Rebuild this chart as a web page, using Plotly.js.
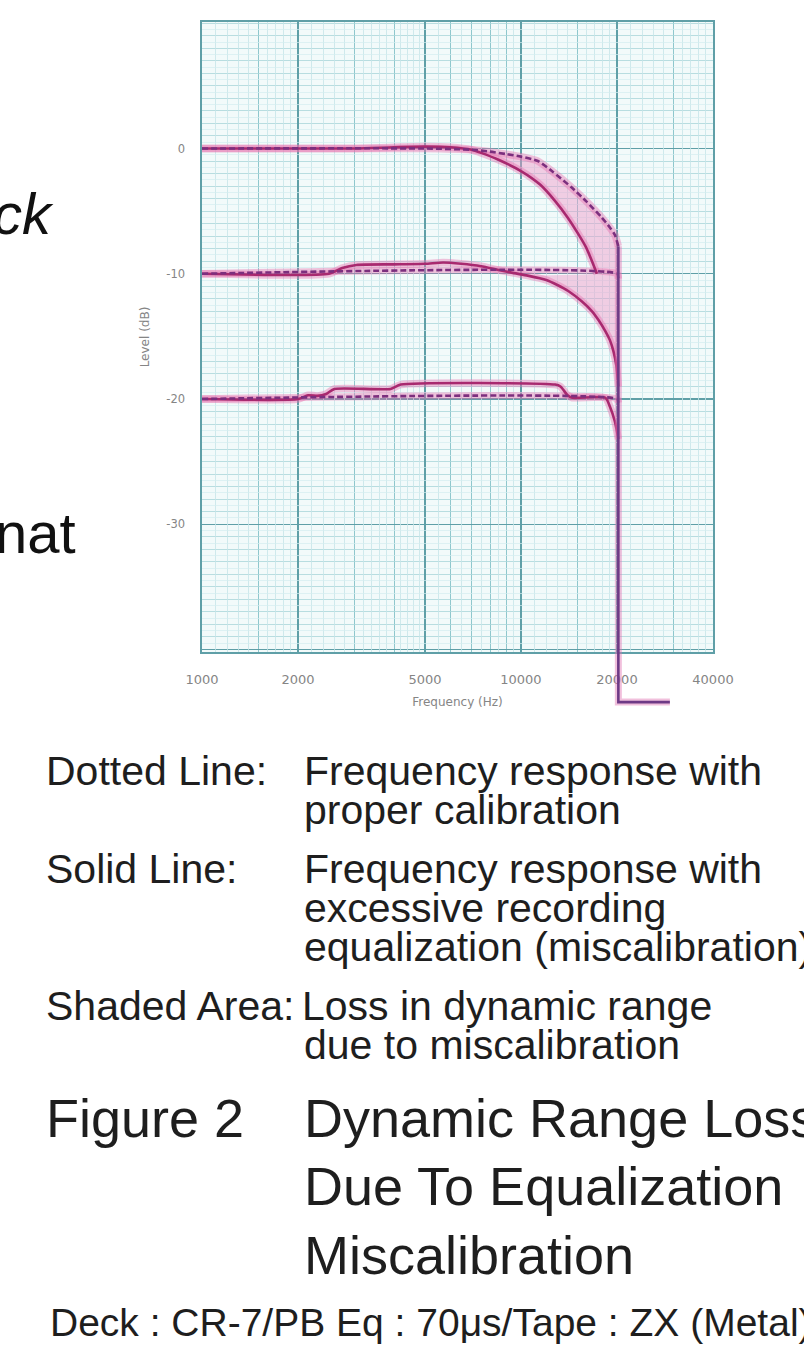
<!DOCTYPE html>
<html>
<head>
<meta charset="utf-8">
<script src="https://cdn.plot.ly/plotly-3.0.1.min.js"></script>
<style>
  html, body { margin: 0; padding: 0; background: #ffffff; }
  #chart { width: 804px; height: 1349px; }
</style>
</head>
<body>
<div id="chart"></div>
<script>
// ---------------- data ----------------
// 0 dB recording level
const freqSolid0   = [1000, 3000, 4000, 5000, 6000, 7000, 7500, 8500, 10000, 11500, 12800, 14000, 15100, 16000, 16700, 17300];
const levelSolid0  = [0, 0, 0.1, 0.15, 0.1, -0.1, -0.35, -0.9, -1.8, -2.9, -4.2, -5.5, -6.8, -7.9, -9.0, -10];
const freqDotted0  = [1000, 5000, 7000, 8000, 9000, 10000, 11300, 12500, 14400, 16000, 17900, 19000, 19700, 20200];
const levelDotted0 = [0, 0, -0.1, -0.25, -0.45, -0.65, -1.0, -1.8, -3.1, -4.2, -5.5, -6.3, -6.9, -7.8];
// -10 dB recording level
const freqSolidM10  = [1000, 2500, 2750, 3050, 4000, 5000, 5700, 6500, 7500, 8500, 9500, 10500, 12000, 13000, 14100, 15500, 16700, 17500, 18400, 19000, 19500, 19900, 20200];
const levelSolidM10 = [-10, -10, -9.55, -9.3, -9.25, -9.2, -9.1, -9.2, -9.4, -9.7, -9.95, -10.15, -10.5, -10.9, -11.4, -12.2, -13.0, -13.7, -14.6, -15.3, -16.2, -17.3, -19.0];
const freqDottedM10  = [1000, 20000, 20200];
const levelDottedM10 = [-10, -10, -10.4];
// -20 dB recording level
const freqSolidM20  = [1000, 2000, 2150, 2300, 2450, 2600, 3900, 4200, 12800, 13300, 14000, 14500, 18400, 19000, 19700, 20200];
const levelSolidM20 = [-20, -20, -19.7, -19.75, -19.6, -19.2, -19.2, -18.85, -18.85, -19.0, -19.7, -19.9, -19.9, -20.6, -21.8, -23.2];
const freqDottedM20  = [1000, 20000, 20200];
const levelDottedM20 = [-20, -20, -20.3];
// common roll-off of the recorder pen beyond the band edge
const freqDrop  = [20200, 20200, 29300];
const levelDrop = [-7.8, -44.2, -44.2];

// axis ticks / graph-paper grid
const freqTicks     = [1000, 2000, 5000, 10000, 20000, 40000];
const freqTickText  = ['1000', '2000', '5000', '10000', '20000', '40000'];
const freqGridMid   = [1500, 3000, 4000, 6000, 7000, 8000, 9000, 15000, 30000];
const freqGridFine  = [1100, 1200, 1300, 1400, 1600, 1700, 1800, 1900, 2200, 2400, 2600, 2800, 3200, 3400, 3600, 3800,
                       4200, 4400, 4600, 4800, 5500, 6500, 7500, 8500, 9500, 11000, 12000, 13000, 14000, 16000, 17000,
                       18000, 19000, 22000, 24000, 26000, 28000, 32000, 34000, 36000, 38000];
const levelTicks    = [0, -10, -20, -30, -40];
const levelTickText = ['0', '-10', '-20', '-30', ''];

// ---------------- page geometry (pixels) ----------------
const W = 804, H = 1349;
const PL = 202, PR = 713, PT = 22, PB = 652, EXT = 712;
const yTop = 10.1, yBot = -40.2;
const xRange = [Math.log10(1000), Math.log10(40000)];
const pxPerDb = (PB - PT) / (yTop - yBot);
const yBotExt = yBot - (EXT - PB) / pxPerDb;
const px = x => (x - PL) / (PR - PL);
const py = y => (EXT - y) / (EXT - PT);

// ---------------- styles ----------------
const CORE_SOLID = '#a8296f';
const CORE_DOT = '#7c2f7e';
const HALO = 'rgba(232,112,175,0.42)';
const SHADE = 'rgba(238,150,200,0.45)';
const FONT = 'Liberation Sans, Arial, sans-serif';
const AXFONT = 'DejaVu Sans, Verdana, sans-serif';

function halo(x, y, ax) {
  return {x, y, type: 'scatter', mode: 'lines', line: {color: HALO, width: 7.5, shape: 'spline', smoothing: 0.6},
          hoverinfo: 'skip', showlegend: false, xaxis: ax ? ax[0] : 'x', yaxis: ax ? ax[1] : 'y'};
}
function core(x, y, name, dotted, ax) {
  return {x, y, name, type: 'scatter', mode: 'lines',
          line: {color: dotted ? CORE_DOT : CORE_SOLID, width: 2.6, dash: dotted ? '6px,3px' : 'solid', shape: 'spline', smoothing: 0.6},
          showlegend: false, xaxis: ax ? ax[0] : 'x', yaxis: ax ? ax[1] : 'y'};
}

// shaded polygons built from the curves
function pick(fx, ly, fmin) {
  const xs = [], ys = [];
  fx.forEach((f, i) => { if (f >= fmin) { xs.push(f); ys.push(ly[i]); } });
  return [xs, ys];
}
const [s0x, s0y] = pick(freqSolid0, levelSolid0, 7000);
const [d0x, d0y] = pick(freqDotted0, levelDotted0, 7000);
const shade0X = s0x.concat([freqDottedM10[1]], d0x.slice().reverse());
const shade0Y = s0y.concat([levelDottedM10[1]], d0y.slice().reverse());
const [s1x, s1y] = pick(freqSolidM10, levelSolidM10, 10000);
const [d1x, d1y] = pick(freqDottedM10, levelDottedM10, 10000);
const shade1X = s1x.concat(d1x.slice().reverse());
const shade1Y = s1y.concat(d1y.slice().reverse());

const traces = [
  {x: shade0X, y: shade0Y, type: 'scatter', mode: 'lines', fill: 'toself', fillcolor: SHADE, line: {width: 0}, hoverinfo: 'skip', showlegend: false, name: 'Loss 0 dB'},
  {x: shade1X, y: shade1Y, type: 'scatter', mode: 'lines', fill: 'toself', fillcolor: SHADE, line: {width: 0}, hoverinfo: 'skip', showlegend: false, name: 'Loss -10 dB'},
  halo(freqSolid0, levelSolid0), halo(freqDotted0, levelDotted0),
  halo(freqSolidM10, levelSolidM10), halo(freqDottedM10, levelDottedM10),
  halo(freqSolidM20, levelSolidM20), halo(freqDottedM20, levelDottedM20),
  core(freqSolid0, levelSolid0, 'Solid 0 dB', false),
  core(freqSolidM10, levelSolidM10, 'Solid -10 dB', false),
  core(freqSolidM20, levelSolidM20, 'Solid -20 dB', false),
  core(freqDotted0, levelDotted0, 'Dotted 0 dB', true),
  core(freqDottedM10, levelDottedM10, 'Dotted -10 dB', true),
  core(freqDottedM20, levelDottedM20, 'Dotted -20 dB', true),
  // fine-grid carrier (invisible) on overlay axes
  {x: freqTicks, y: levelTicks.concat([0]), type: 'scatter', mode: 'lines', line: {width: 0}, opacity: 0,
   hoverinfo: 'skip', showlegend: false, xaxis: 'x3', yaxis: 'y3'},
  // drop-off that runs below the chart frame
  {x: freqDrop, y: levelDrop, type: 'scatter', mode: 'lines', line: {color: 'rgba(225,115,178,0.45)', width: 7},
   hoverinfo: 'skip', showlegend: false, xaxis: 'x2', yaxis: 'y2'},
  {x: freqDrop, y: levelDrop, type: 'scatter', mode: 'lines', line: {color: '#6e3a86', width: 2.6},
   showlegend: false, name: 'Cut-off', xaxis: 'x2', yaxis: 'y2'}
];

const layout = {
  width: W, height: H,
  margin: {l: PL, r: W - PR, t: PT, b: H - EXT, pad: 0},
  paper_bgcolor: '#ffffff', plot_bgcolor: 'rgba(0,0,0,0)',
  showlegend: false,
  xaxis: {
    type: 'log', range: xRange, domain: [0, 1], anchor: 'y',
    tickmode: 'array', tickvals: freqTicks, ticktext: freqTickText,
    tickfont: {family: AXFONT, size: 13, color: '#858585'},
    ticks: 'outside', ticklen: 15, tickcolor: 'rgba(0,0,0,0)',
    showgrid: true, gridcolor: '#5f9fa7', gridwidth: 1.4,
    minor: {tickmode: 'array', tickvals: freqGridMid, showgrid: true, gridcolor: '#8fc7cd', gridwidth: 1, ticks: ''},
    showline: true, mirror: true, linecolor: '#5f9fa7', linewidth: 1.6,
    zeroline: false, fixedrange: true,
    title: {text: 'Frequency (Hz)', font: {family: AXFONT, size: 12, color: '#858585'}, standoff: 11}
  },
  yaxis: {
    range: [yBot, yTop], domain: [py(PB), 1], anchor: 'x',
    tickmode: 'array', tickvals: levelTicks, ticktext: levelTickText,
    tickfont: {family: AXFONT, size: 11.5, color: '#858585'},
    ticks: 'outside', ticklen: 13, tickcolor: 'rgba(0,0,0,0)',
    showgrid: true, gridcolor: '#5f9fa7', gridwidth: 1.4,
    minor: {tickmode: 'linear', tick0: 0, dtick: 1, showgrid: true, gridcolor: '#a9d6da', gridwidth: 0.8, ticks: ''},
    showline: true, mirror: true, linecolor: '#5f9fa7', linewidth: 1.6,
    zeroline: false, fixedrange: true,
    title: {text: 'Level (dB)', font: {family: AXFONT, size: 12, color: '#858585'}, standoff: 14}
  },
  xaxis3: {
    type: 'log', range: xRange, overlaying: 'x', anchor: 'y3',
    tickmode: 'array', tickvals: freqGridFine, showticklabels: false, ticks: '',
    showgrid: true, gridcolor: '#c6e5e8', gridwidth: 0.8, zeroline: false, showline: false, fixedrange: true
  },
  yaxis3: {
    range: [yBot, yTop], overlaying: 'y', anchor: 'x3',
    tickmode: 'linear', tick0: 0.5, dtick: 1, showticklabels: false, ticks: '',
    showgrid: true, gridcolor: '#d4edef', gridwidth: 0.7, zeroline: false, showline: false, fixedrange: true
  },
  xaxis2: {type: 'log', range: xRange, domain: [0, 1], anchor: 'y2', visible: false, fixedrange: true},
  yaxis2: {range: [yBotExt, yTop], domain: [0, 1], anchor: 'x2', visible: false, fixedrange: true},
  shapes: [
    {type: 'rect', xref: 'x domain', yref: 'y domain', x0: 0, x1: 1, y0: 0, y1: 1, layer: 'below',
     fillcolor: '#f2fafa', line: {width: 0}}
  ],
  annotations: []
};

function note(text, xPix, yPix, size, opts) {
  opts = opts || {};
  layout.annotations.push({
    text, xref: 'paper', yref: 'paper', x: px(xPix), y: py(yPix),
    xanchor: opts.xanchor || 'left', yanchor: 'middle', showarrow: false,
    font: {family: FONT, size, color: opts.color || '#1e1e1e', style: opts.style || 'normal'}
  });
}

// fragments of the slide text at the left edge
note('ck', 56, 213, 58, {xanchor: 'right', style: 'italic', color: '#111'});
note('nat', 78, 532, 58, {xanchor: 'right', color: '#111'});

// legend text below the chart
note('Dotted Line:', 44, 771, 41);
note('Frequency response with', 302, 771, 41);
note('proper calibration', 302, 810, 41);
note('Solid Line:', 44, 869, 41);
note('Frequency response with', 302, 869, 41);
note('excessive recording', 302, 908, 41);
note('equalization (miscalibration)', 302, 947, 41);
note('Shaded Area:', 44, 1006, 41);
note('Loss in dynamic range', 300, 1006, 41);
note('due to miscalibration', 302, 1045, 41);
note('Figure 2', 44, 1118, 54);
note('Dynamic Range Loss', 302, 1118, 54);
note('Due To Equalization', 302, 1186, 54);
note('Miscalibration', 302, 1255, 54);
note('Deck : CR-7/PB Eq : 70\u03BCs/Tape : ZX (Metal)', 48, 1322, 39);

Plotly.newPlot('chart', traces, layout, {staticPlot: true, displayModeBar: false});
</script>
</body>
</html>
